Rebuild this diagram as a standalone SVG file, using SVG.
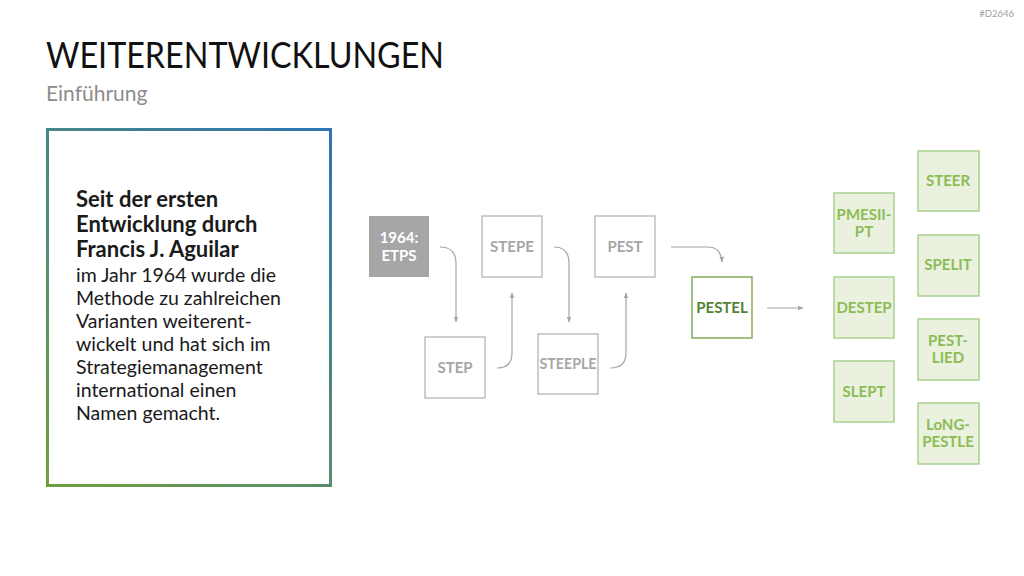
<svg xmlns="http://www.w3.org/2000/svg" width="1024" height="576" viewBox="0 0 1024 576">
<defs>
<linearGradient id="frame" x1="331" y1="128" x2="46" y2="487" gradientUnits="userSpaceOnUse">
<stop offset="0" stop-color="#2e75b6"/>
<stop offset="1" stop-color="#70a03c"/>
</linearGradient>
<marker id="ah" viewBox="0 0 10 10" refX="9" refY="5" markerWidth="5" markerHeight="5" orient="auto">
<path d="M0,1 L10,5 L0,9 Z" fill="#a6a6a6"/>
</marker>
<style>
text{font-family:Lato,"Open Sans","Liberation Sans",sans-serif}
.box{fill:#fff;stroke:#bfbfbf;stroke-width:1.5}
.gtx{fill:#a6a6a6;font-weight:bold;font-size:15px;text-anchor:middle}
.gbox{fill:#ebf1df;stroke:#a9d18e;stroke-width:1.5}
.gntx{fill:#8cbd55;font-weight:bold;font-size:15px;text-anchor:middle}
.con{fill:none;stroke:#a6a6a6;stroke-width:1.2;marker-end:url(#ah)}
.body{font-size:19.5px;fill:#1a1a1a}
</style>
</defs>
<rect width="1024" height="576" fill="#fff"/>
<text x="1014" y="17" font-size="9.5" fill="#a0a0a0" text-anchor="end">#D2646</text>
<text x="46" y="68" font-size="36" fill="#111" textLength="398" lengthAdjust="spacingAndGlyphs">WEITERENTWICKLUNGEN</text>
<text x="46" y="101" font-size="21" fill="#8c8c8c">Einführung</text>

<g id="intro">
<rect x="47.5" y="129.5" width="283" height="356" fill="#fff" stroke="url(#frame)" stroke-width="3"/>
<text class="body" font-weight="bold" style="font-size:22px">
<tspan x="76" y="207">Seit der ersten</tspan>
<tspan x="76" y="232">Entwicklung durch</tspan>
<tspan x="76" y="257">Francis J. Aguilar</tspan>
</text>
<text class="body">
<tspan x="76" y="282">im Jahr 1964 wurde die</tspan>
<tspan x="76" y="305">Methode zu zahlreichen</tspan>
<tspan x="76" y="328">Varianten weiterent-</tspan>
<tspan x="76" y="351">wickelt und hat sich im</tspan>
<tspan x="76" y="374">Strategiemanagement</tspan>
<tspan x="76" y="397">international einen</tspan>
<tspan x="76" y="420">Namen gemacht.</tspan>
</text>
</g>

<g id="connectors">
<path class="con" d="M440,247 Q456,247 456,263 L456,322"/>
<path class="con" d="M497,368 Q512,368 512,353 L512,293"/>
<path class="con" d="M554,247 Q569,247 569,263 L569,322"/>
<path class="con" d="M610,368 Q626,368 626,353 L626,293"/>
<path class="con" d="M671,247 L708,247 Q721,247 722,262"/>
<path class="con" d="M767,308 L803,308"/>
</g>

<g id="n-etps">
<rect x="369" y="216" width="60" height="61" fill="#a6a6a6"/>
<text class="gtx" style="fill:#fff"><tspan x="399" y="243">1964:</tspan><tspan x="399" y="261">ETPS</tspan></text>
</g>
<g id="n-stepe">
<rect class="box" x="482" y="216" width="60" height="61"/>
<text class="gtx" x="512" y="252">STEPE</text>
</g>
<g id="n-pest">
<rect class="box" x="595" y="216" width="60" height="61"/>
<text class="gtx" x="625" y="252">PEST</text>
</g>
<g id="n-step">
<rect class="box" x="425" y="337" width="60" height="61"/>
<text class="gtx" x="455" y="373">STEP</text>
</g>
<g id="n-steeple">
<rect class="box" x="538" y="334" width="60" height="60"/>
<text class="gtx" x="568" y="369" textLength="57" lengthAdjust="spacingAndGlyphs">STEEPLE</text>
</g>
<g id="n-pestel">
<rect x="692" y="277" width="60" height="61" fill="#fff" stroke="#82ad5a" stroke-width="1.5"/>
<text class="gtx" x="722" y="313" style="fill:#548235">PESTEL</text>
</g>

<g id="n-pmesii">
<rect class="gbox" x="834" y="193" width="60" height="60"/>
<text class="gntx"><tspan x="864" y="220">PMESII-</tspan><tspan x="864" y="237">PT</tspan></text>
</g>
<g id="n-destep">
<rect class="gbox" x="834" y="277" width="60" height="61"/>
<text class="gntx" x="864" y="313">DESTEP</text>
</g>
<g id="n-slept">
<rect class="gbox" x="834" y="361" width="60" height="61"/>
<text class="gntx" x="864" y="397">SLEPT</text>
</g>
<g id="n-steer">
<rect class="gbox" x="918" y="151" width="61" height="60"/>
<text class="gntx" x="948" y="186">STEER</text>
</g>
<g id="n-spelit">
<rect class="gbox" x="918" y="235" width="61" height="61"/>
<text class="gntx" x="948" y="270">SPELIT</text>
</g>
<g id="n-pestlied">
<rect class="gbox" x="918" y="319" width="61" height="61"/>
<text class="gntx"><tspan x="948" y="346">PEST-</tspan><tspan x="948" y="363">LIED</tspan></text>
</g>
<g id="n-longpestle">
<rect class="gbox" x="918" y="403" width="61" height="61"/>
<text class="gntx"><tspan x="948" y="430">LoNG-</tspan><tspan x="948" y="447">PESTLE</tspan></text>
</g>
</svg>
